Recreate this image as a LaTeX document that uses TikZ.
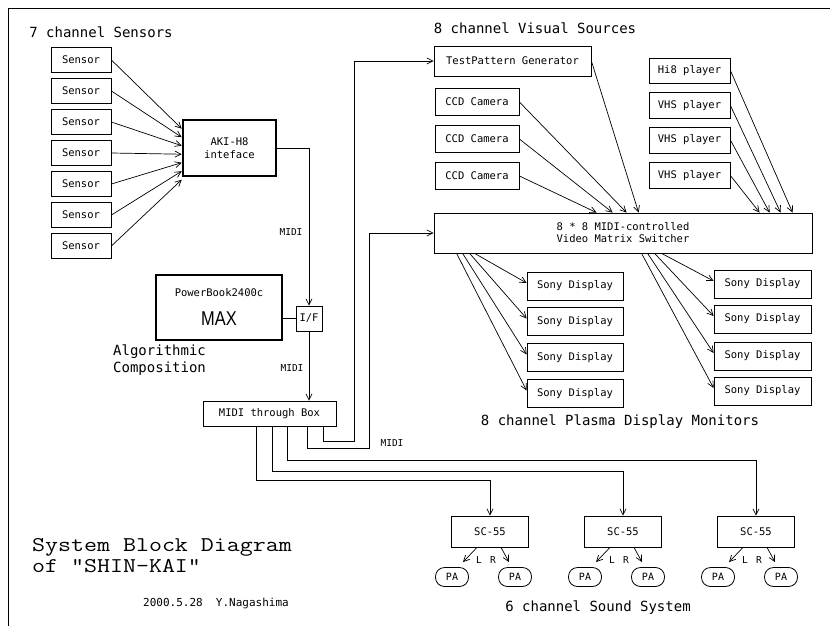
\documentclass[tikz,border=0pt]{standalone}
\usepackage{fontspec}
\usetikzlibrary{arrows.meta,calc}
\newfontfamily\monof{DejaVu Sans Mono}
\newcommand\titlef{\ttfamily\addfontfeature{FakeBold=1.5}}
\newfontfamily\maxf{Liberation Sans}
\tikzset{
  box/.style={draw, line width=0.8pt, inner sep=0pt, font=\monof\fontsize{10.5}{12}\selectfont, align=center},
  thickbox/.style={draw, line width=2.6pt, inner sep=0pt, font=\monof\fontsize{10.5}{13}\selectfont, align=center},
  pa/.style={draw, line width=0.8pt, rounded corners=9pt, minimum width=33pt, minimum height=19pt, inner sep=0pt, font=\monof\fontsize{10}{12}\selectfont},
  arr/.style={line width=0.7pt, -{Straight Barb[length=6pt,width=6pt]}},
  wire/.style={line width=0.7pt},
  hdr/.style={font=\monof\fontsize{14}{16}\selectfont, inner sep=0pt},
  lbl/.style={font=\monof\fontsize{9.5}{11}\selectfont, inner sep=0pt},
  ttl/.style={font=\titlef\fontsize{21}{24}\selectfont, xscale=1.2, anchor=west, inner sep=0pt},
}
\begin{document}
\begin{tikzpicture}[x=1pt,y=-1pt]
\useasboundingbox (0,0) rectangle (830,626);
\draw[line width=0.8pt] (8,626) -- (8,8) -- (830,8);

% headers
\node[hdr] (h1) at (101,32) {7 channel Sensors};
\node[hdr] (h2) at (535,28) {8 channel Visual Sources};
\node[hdr] (h3) at (620,422) {8 channel Plasma Display Monitors};
\node[hdr] (h4) at (598,608) {6 channel Sound System};
\node[hdr, anchor=west] (alg1) at (113,352) {Algorithmic};
\node[hdr, anchor=west] (alg2) at (113,369) {Composition};

% sensors
\node[thickbox, minimum width=93pt, minimum height=56pt] (aki) at (229.5,148) {AKI-H8\\inteface};
\foreach \i in {1,...,7}{
  \node[box, minimum width=60pt, minimum height=25pt] (s\i) at (81,{29+31*\i}) {Sensor};
  \draw[arr] (s\i.east) -- ([yshift={-(1.5+8.5*\i)*1pt}]aki.north west);
}

% PowerBook and I/F
\node[thickbox, minimum width=126pt, minimum height=65pt] (pb) at (219,307.5) {};
\node[font=\monof\fontsize{10.5}{12}\selectfont, inner sep=0pt] (pbt) at (219,293) {PowerBook2400c};
\node[font=\maxf\fontsize{20}{22}\selectfont, xscale=0.82, inner sep=0pt] (max) at (219,319) {MAX};
\node[box, minimum width=26pt, minimum height=25pt] (iff) at (309,318.5) {I/F};
\draw[wire] (pb.east |- iff.west) -- (iff.west);
\draw[arr] (aki.east) -| (iff.north);
\node[lbl] (m1) at (291,232) {MIDI};

% MIDI through box
\node[box, minimum width=133pt, minimum height=25pt] (mb) at (269.5,413.5) {MIDI through Box};
\draw[arr] (iff.south) -- (iff.south |- mb.north);
\node[lbl] (m2) at (292,368) {MIDI};

% visual sources
\node[box, minimum width=157pt, minimum height=30pt] (tp) at (512.5,61) {TestPattern Generator};
\foreach \i/\y in {1/102,2/139,3/176}
  \node[box, minimum width=84pt, minimum height=27pt] (ccd\i) at (477,\y) {CCD Camera};
\node[box, minimum width=81pt, minimum height=25pt] (hi8) at (689.5,70.5) {Hi8 player};
\foreach \i/\y in {1/105.5,2/140,3/175.5}
  \node[box, minimum width=81pt, minimum height=26pt] (vhs\i) at (689.5,\y) {VHS player};

\node[box, minimum width=378pt, minimum height=40pt] (mat) at (623,233) {8 * 8 MIDI-controlled\\Video Matrix Switcher};

\draw[arr] (ccd3.east) -- ([xshift=163pt]mat.north west);
\draw[arr] (ccd2.east) -- ([xshift=179pt]mat.north west);
\draw[arr] (ccd1.east) -- ([xshift=193pt]mat.north west);
\draw[arr] (tp.east) -- ([xshift=205pt]mat.north west);
\draw[arr] (vhs3.east) -- ([xshift=326pt]mat.north west);
\draw[arr] (vhs2.east) -- ([xshift=336pt]mat.north west);
\draw[arr] (vhs1.east) -- ([xshift=347pt]mat.north west);
\draw[arr] (hi8.east) -- ([xshift=359pt]mat.north west);

% displays
\foreach \i/\y in {1/286,2/321.5,3/357.5,4/393.5}
  \node[box, minimum width=96pt, minimum height=28pt] (dl\i) at (575,\y) {Sony Display};
\foreach \i/\y in {1/284,2/319,3/356,4/391}
  \node[box, minimum width=97pt, minimum height=28pt] (dr\i) at (762.5,\y) {Sony Display};
\draw[arr] ([xshift=23pt]mat.south west) -- ([yshift=3pt]dl4.west);
\draw[arr] ([xshift=29pt]mat.south west) -- ([yshift=3pt]dl3.west);
\draw[arr] ([xshift=36pt]mat.south west) -- ([yshift=3pt]dl2.west);
\draw[arr] ([xshift=41pt]mat.south west) -- ([yshift=3pt]dl1.west);
\draw[arr] ([xshift=208pt]mat.south west) -- ([yshift=3pt]dr4.west);
\draw[arr] ([xshift=214pt]mat.south west) -- ([yshift=3pt]dr3.west);
\draw[arr] ([xshift=221pt]mat.south west) -- ([yshift=3pt]dr2.west);
\draw[arr] ([xshift=228pt]mat.south west) -- ([yshift=3pt]dr1.west);

% MIDI routes from through box
\draw[arr] ([xshift=53.5pt]mb.south) |- (354,441) |- (tp.west);
\draw[arr] ([xshift=37.5pt]mb.south) |- (369,448) |- (mat.west);
\node[lbl] (m3) at (392,443) {MIDI};

% sound system
\foreach \i/\x in {1/490,2/623,3/756}{
  \node[box, minimum width=77pt, minimum height=31pt] (sc\i) at (\x,531.5) {SC-55};
  \node[pa] (pal\i) at ({\x-38},577) {PA};
  \node[pa] (par\i) at ({\x+25},577) {PA};
  \draw[arr] ([xshift=-13pt]sc\i.south) -- ([xshift=11pt,yshift=5pt]pal\i.north);
  \draw[arr] ([xshift=11pt]sc\i.south) -- ([xshift=-6pt,yshift=5pt]par\i.north);
  \node[lbl] (l\i) at ({\x-11},560) {L};
  \node[lbl] (r\i) at ({\x+3},560) {R};
}
\draw[arr] ([xshift=17.5pt]mb.south) -- ++(0,34) -| (sc3.north);
\draw[arr] ([xshift=2.5pt]mb.south) -- ++(0,45) -| (sc2.north);
\draw[arr] ([xshift=-13.5pt]mb.south) -- ++(0,54) -| (sc1.north);

% title
\node[ttl] (t1) at (32,547) {System Block Diagram};
\node[ttl] (t2) at (32,566) {of "SHIN-KAI"};
\node[font=\monof\fontsize{11}{12}\selectfont, inner sep=0pt] (date) at (216,603) {2000.5.28\ \ Y.Nagashima};
\end{tikzpicture}
\end{document}
